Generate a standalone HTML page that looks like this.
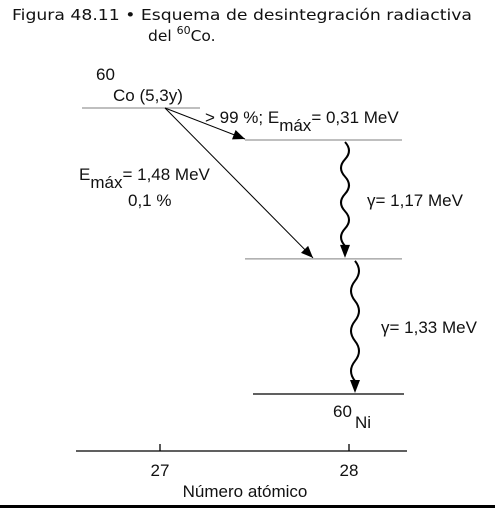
<!DOCTYPE html>
<html><head><meta charset="utf-8"><style>
body{margin:0;background:#fff;width:495px;height:508px;overflow:hidden}
svg{display:block}
.t{font-family:"DejaVu Sans",sans-serif;font-size:15.5px;fill:#111}
.c{font-family:"Liberation Sans",sans-serif;font-size:17px;fill:#111}
</style></head><body>
<svg id="chart" width="495" height="508" viewBox="0 0 495 508">
<text class="t" x="12" y="20" textLength="460" lengthAdjust="spacingAndGlyphs">Figura 48.11 • Esquema de desintegración radiactiva</text>
<text class="t" x="148" y="41">del <tspan font-size="11" dy="-7">60</tspan><tspan dy="7">Co.</tspan></text>
<g id="marks"></g>
<rect x="0" y="505" width="495" height="3" fill="#000"/>
</svg>
<script>
const atomicNumbers=[27,28];
const tickLabels=["27","28"];
const levelNames=["co-60","ni-level-2.50","ni-level-1.33","ni-60-ground"];
const levelZ=[27,28,28,28];
const levelEnergy=[2.82,2.50,1.33,0];
const gammaFrom=[1,2];
const gammaTo=[2,3];
const gammaLabels=["γ= 1,17 MeV","γ= 1,33 MeV"];
const betaTo=[1,2];

const NS="http://www.w3.org/2000/svg";
const g=document.getElementById('marks');
const xS=z=>160+(z-27)*189;
const yS=e=>e<=2.5?394-e*101.6:140-(e-2.5)*100;
function mk(t,a){const e=document.createElementNS(NS,t);for(const k in a)e.setAttribute(k,a[k]);g.appendChild(e);return e;}
function txt(x,y,s,cls){const e=mk('text',{x:x,y:y,class:cls||'c'});e.innerHTML=s;return e;}

let ax=mk('line',{x1:76,y1:451,x2:407,y2:451,stroke:'#000','stroke-width':1.3});


atomicNumbers.forEach((z,i)=>{
  let t=mk('line',{x1:xS(z),y1:444,x2:xS(z),y2:451,stroke:'#000','stroke-width':1.3});
  
  
  let l=txt(xS(z),476,tickLabels[i]);l.setAttribute('text-anchor','middle');
  
  
});
let at=txt(245,497,'Número atómico');at.setAttribute('text-anchor','middle');



levelNames.forEach((n,i)=>{
  const y=yS(levelEnergy[i]);
  const x=xS(levelZ[i]);
  const x1=levelZ[i]===27?x-78:x-104, x2=levelZ[i]===27?x+40:x+53;
  let l=mk('line',{x1:i===3?x-96:x1,y1:y,x2:i===3?x+55:x2,y2:y,stroke:i===3?'#000':'#999','stroke-width':1.3});
  
  
});
function head(x,y,ang,size){
  const a=ang,s=size||12,w=5;
  const bx=x-s*Math.cos(a),by=y-s*Math.sin(a);
  const px=-Math.sin(a)*w,py=Math.cos(a)*w;
  return mk('polygon',{points:`${x},${y} ${bx+px},${by+py} ${bx-px},${by-py}`,fill:'#000'});
}
const ox=xS(27)+5, oy=yS(levelEnergy[0]);
const betaEndX=[xS(28)-104,xS(28)-36];
betaTo.forEach((k,i)=>{
  const ex=betaEndX[i], ey=yS(levelEnergy[k])-1;
  let l=mk('line',{x1:ox,y1:oy,x2:ex,y2:ey,stroke:'#000','stroke-width':1});
  
  
  let h=head(ex,ey,Math.atan2(ey-oy,ex-ox));
  
  
});
const gx=[xS(28)-4,xS(28)+6];
gammaFrom.forEach((f,i)=>{
  const y1=yS(levelEnergy[f])+2, y2=yS(levelEnergy[gammaTo[i]])-1;
  const x=gx[i]; let d=`M${x},${y1}`; const n=6, step=(y2-12-y1)/n;
  for(let k=0;k<n;k++){const yy=y1+step*k;const dir=k%2?-1:1;d+=` Q${x+dir*8},${yy+step/2} ${x},${yy+step}`;}
  let p=mk('path',{d:d,fill:'none',stroke:'#000','stroke-width':2});
  
  
  let h=head(x,y2,Math.PI/2,13);
  
  
  let lab=txt(x+22+i*4,(y1+y2)/2+6,gammaLabels[i]);
  
  
});
let e;
e=txt(96,80,'60');
e=txt(113,101,'Co (5,3y)');
e=txt(205,123,'&gt; 99 %;  E<tspan dy="8">máx</tspan><tspan dy="-8">= 0,31 MeV</tspan>');
e=txt(79,180,'E<tspan dy="8">máx</tspan><tspan dy="-8">= 1,48 MeV</tspan>');
e=txt(128,206,'0,1 %');
e=txt(333,417,'60');
e=txt(355,428,'Ni');
</script>
</body></html>
